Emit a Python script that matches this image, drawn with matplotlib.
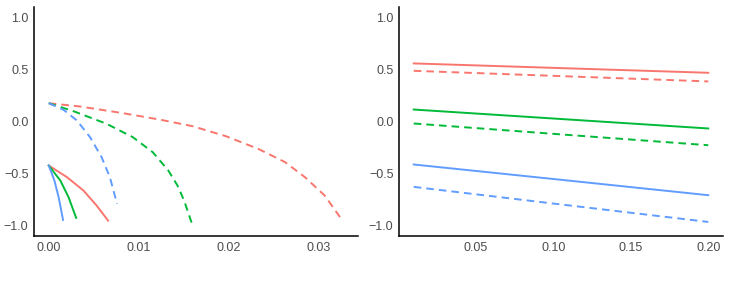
import matplotlib
matplotlib.use("Agg")
import matplotlib.pyplot as plt

RED, GREEN, BLUE = "#F8766D", "#00BA38", "#619CFF"

# Left panel curves (x, y)
red_dash_x = [0.0, 0.0035, 0.00826, 0.0123, 0.016, 0.0197, 0.0233, 0.0263, 0.0285, 0.0307, 0.0327]
red_dash_y = [0.176, 0.144, 0.080, 0.019, -0.045, -0.141, -0.263, -0.391, -0.535, -0.712, -0.955]
green_dash_x = [0.0, 0.00275, 0.00643, 0.00936, 0.01157, 0.0133, 0.01432, 0.01506, 0.0160]
green_dash_y = [0.176, 0.099, -0.022, -0.151, -0.295, -0.471, -0.615, -0.76, -1.0]
blue_dash_x = [0.0, 0.00165, 0.00313, 0.0046, 0.00588, 0.0068, 0.0076]
blue_dash_y = [0.176, 0.112, 0.010, -0.151, -0.343, -0.535, -0.791]
red_solid_x = [0.0, 0.00203, 0.00386, 0.00533, 0.0066]
red_solid_y = [-0.423, -0.535, -0.663, -0.808, -0.952]
green_solid_x = [0.0, 0.00129, 0.0022, 0.00305]
green_solid_y = [-0.423, -0.567, -0.727, -0.926]
blue_solid_x = [0.0, 0.00063, 0.0011, 0.00159]
blue_solid_y = [-0.423, -0.567, -0.727, -0.945]

# Right panel lines
r_x = [0.01, 0.105, 0.20]
r_red_solid = [0.558, 0.513, 0.468]
r_red_dash = [0.487, 0.436, 0.385]
r_green_solid = [0.115, 0.024, -0.067]
r_green_dash = [-0.019, -0.124, -0.228]
r_blue_solid = [-0.413, -0.560, -0.708]
r_blue_dash = [-0.628, -0.797, -0.965]

left_xticks = [0.00, 0.01, 0.02, 0.03]
left_xlabels = ["0.00", "0.01", "0.02", "0.03"]
right_xticks = [0.05, 0.10, 0.15, 0.20]
right_xlabels = ["0.05", "0.10", "0.15", "0.20"]
yticks = [-1.0, -0.5, 0.0, 0.5, 1.0]
ylabels = ["\u22121.0", "\u22120.5", "0.0", "0.5", "1.0"]

plt.rcParams['font.family'] = ['Liberation Sans', 'DejaVu Sans']

fig = plt.figure(figsize=(7.3, 3.01), dpi=100)
ax1 = fig.add_axes([34/730, 65/301, 324/730, 229/301])
ax2 = fig.add_axes([399/730, 65/301, 324/730, 229/301])

lw = 1.4
dash = (0, (3.9, 2.6))


def smooth(ax, xs, ys, **kw):
    ax.plot(xs, ys, solid_joinstyle="round", dash_joinstyle="round", **kw)


smooth(ax1, red_dash_x, red_dash_y, color=RED, lw=lw, linestyle=dash)
smooth(ax1, green_dash_x, green_dash_y, color=GREEN, lw=lw, linestyle=dash)
smooth(ax1, blue_dash_x, blue_dash_y, color=BLUE, lw=lw, linestyle=dash)
smooth(ax1, red_solid_x, red_solid_y, color=RED, lw=lw)
smooth(ax1, green_solid_x, green_solid_y, color=GREEN, lw=lw)
smooth(ax1, blue_solid_x, blue_solid_y, color=BLUE, lw=lw)

ax2.plot(r_x, r_red_solid, color=RED, lw=lw)
ax2.plot(r_x, r_red_dash, color=RED, lw=lw, linestyle=dash)
ax2.plot(r_x, r_green_solid, color=GREEN, lw=lw)
ax2.plot(r_x, r_green_dash, color=GREEN, lw=lw, linestyle=dash)
ax2.plot(r_x, r_blue_solid, color=BLUE, lw=lw)
ax2.plot(r_x, r_blue_dash, color=BLUE, lw=lw, linestyle=dash)

ax1.set_xlim(-0.00164, 0.0344)
ax2.set_xlim(0.0005, 0.2095)
ax1.set_xticks(left_xticks, left_xlabels)
ax2.set_xticks(right_xticks, right_xlabels)

for ax in (ax1, ax2):
    ax.set_ylim(-1.1, 1.1)
    ax.set_yticks(yticks, ylabels)
    for s in ("top", "right"):
        ax.spines[s].set_visible(False)
    for s in ("left", "bottom"):
        ax.spines[s].set_linewidth(1.1)
        ax.spines[s].set_color("black")
    ax.tick_params(length=0, labelsize=9, labelcolor="#4D4D4D", pad=4)
    ax.set_facecolor("white")

fig.savefig("out.png", dpi=100, facecolor="white")
